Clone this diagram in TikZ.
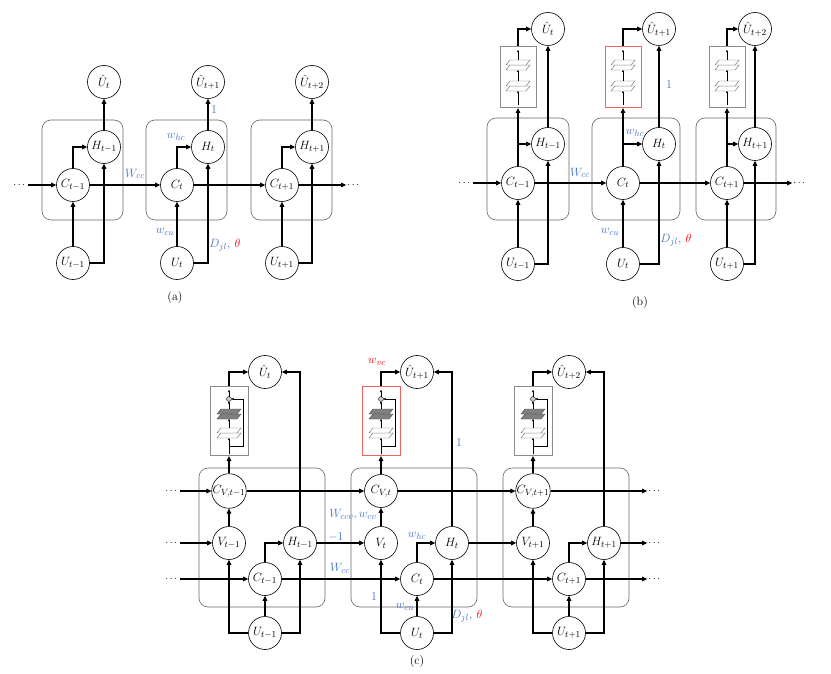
\documentclass[tikz,border=0pt]{standalone}
\usepackage{amsmath}
\usepackage{color}
\usetikzlibrary{arrows.meta}
\definecolor{wblue}{RGB}{68,114,196}
\definecolor{wred}{RGB}{255,0,0}
\definecolor{netred}{RGB}{240,100,100}

\begin{document}
\begin{tikzpicture}[x=1pt,y=-1pt,
    unit/.style={
      % The shape:
      circle,minimum size=33pt,inner sep=0pt,
      % The rest
      draw=black,line width=0.6pt,fill=white,
      font=\fontsize{13}{15}\selectfont},
    cell/.style={draw=black!60,line width=0.6pt,rounded corners=9pt},
    netbox/.style={rectangle,line width=1pt,inner sep=0pt},
    wire/.style={line width=1.1pt,-{Triangle[length=5pt,width=4.5pt]}},
    tiny/.style={line width=0.4pt,-{Triangle[length=2pt,width=2pt]}},
    weight/.style={text=wblue,font=\fontsize{13}{15}\selectfont},
    dots/.style={font=\fontsize{10}{12}\selectfont,inner sep=1pt},
    caption/.style={font=\fontsize{12}{14}\selectfont},
    % The little networks:
    layerw/.pic={
      \foreach \d in {2.5,-2.5}
        \draw[fill=white,draw=black!60,line width=0.4pt]
          (-12,\d+2.5) -- (-8,\d-2.5) -- (12,\d-2.5) -- (8,\d+2.5) -- cycle;},
    layerg/.pic={
      \foreach \d in {2.5,-2.5}
        \draw[fill=black!50,draw=black!70,line width=0.4pt]
          (-12,\d+2.5) -- (-8,\d-2.5) -- (12,\d-2.5) -- (8,\d+2.5) -- cycle;},
    netb/.pic={
      \draw[tiny] (0,28) -- (0,14);
      \pic at (0,9) {layerw};
      \draw[tiny] (0,4) -- (0,-7);
      \pic at (0,-12) {layerw};
      \draw[tiny] (0,-17) -- (0,-27);},
    netc/.pic={
      \draw[tiny] (0,25) -| (14,-22) -- (2.5,-22);
      \draw[tiny] (0,33) -- (0,17);
      \pic at (0,12) {layerw};
      \draw[tiny] (0,7) -- (0,-2);
      \pic at (0,-7) {layerg};
      \draw[tiny] (0,-12) -- (0,-19.5);
      \draw[fill=black!20,line width=0.4pt] (0,-22) circle (2.5);
      \draw[tiny] (0,-24.5) -- (0,-31);}]
  \useasboundingbox (0,0) rectangle (831,674);

  % (a)
  \foreach \col/\cx/\hx/\sub/\nxt in {1/73/104/t-1/t,2/177/208/t/t+1,3/282/312/t+1/t+2}{
    \draw[cell] (\cx-31,120) rectangle (\cx+50,220);
    \node[unit] (aC\col) at (\cx,185) {$C_{\sub}$};
    \node[unit] (aH\col) at (\hx,147) {$H_{\sub}$};
    \node[unit] (aU\col) at (\cx,263) {$U_{\sub}$};
    \node[unit] (aO\col) at (\hx,82) {$\hat{U}_{\nxt}$};
    \draw[wire] (aU\col) -- (aC\col);
    \draw[wire] (aC\col.north) |- (aH\col.west);
    \draw[wire] (aU\col.east) -| (aH\col.south);
    \draw[wire] (aH\col) -- (aO\col);
  }
  \node[dots] (aL) at (20,185) {$\cdots$};
  \node[dots] (aR) at (354,185) {$\cdots$};
  \draw[wire] (aL) -- (aC1);
  \draw[wire] (aC1) -- (aC2);
  \draw[wire] (aC2) -- (aC3);
  \draw[wire] (aC3) -- (aR);
  \node[weight] (aWcc) at (135,174) {$W_{cc}$};
  \node[weight] (aWhc) at (176,137) {$w_{hc}$};
  \node[weight] (aOne) at (214,110) {$1$};
  \node[weight] (aWcu) at (165,232) {$w_{cu}$};
  \node[weight] (aDjl) at (225,245) {$D_{jl}$, \textcolor{wred}{$\theta$}};
  \node[caption] (aCap) at (175,298) {(a)};

  % (b)
  \foreach \col/\cx/\hx/\sub/\nxt/\nc in {1/518/548/t-1/t/black!45,2/623/659/t/t+1/netred,3/727/755/t+1/t+2/black!45}{
    \draw[cell] (\cx-31,118) rectangle (\hx+21,220);
    \node[netbox,draw=\nc,minimum width=36pt,minimum height=61pt] (bN\col) at (\cx,77) {};
    \pic at (bN\col) {netb};
    \node[unit] (bC\col) at (\cx,183) {$C_{\sub}$};
    \node[unit] (bH\col) at (\hx,144) {$H_{\sub}$};
    \node[unit] (bU\col) at (\cx,264) {$U_{\sub}$};
    \node[unit] (bO\col) at (\hx,29) {$\hat{U}_{\nxt}$};
    \draw[wire] (bU\col) -- (bC\col);
    \draw[wire] (bC\col) -- (bN\col);
    \draw[wire] (bC\col.north |- bH\col.west) -- (bH\col.west);
    \draw[wire] (bU\col.east) -| (bH\col.south);
    \draw[wire] (bH\col) -- (bO\col);
    \draw[wire] (bN\col.north) |- (bO\col.west);
  }
  \node[dots] (bL) at (465,183) {$\cdots$};
  \node[dots] (bR) at (800,183) {$\cdots$};
  \draw[wire] (bL) -- (bC1);
  \draw[wire] (bC1) -- (bC2);
  \draw[wire] (bC2) -- (bC3);
  \draw[wire] (bC3) -- (bR);
  \node[weight] (bWcc) at (580,173) {$W_{cc}$};
  \node[weight] (bWhc) at (635,133) {$w_{hc}$};
  \node[weight] (bOne) at (669,85) {$1$};
  \node[weight] (bWcu) at (610,232) {$w_{cu}$};
  \node[weight] (bDjl) at (676,240) {$D_{jl}$, \textcolor{wred}{$\theta$}};
  \node[caption] (bCap) at (640,303) {(b)};

  % (c)
  \foreach \col/\bx/\sub/\nxt/\nc in {1/229/t-1/t/black!45,2/381/t/t+1/netred,3/533/t+1/t+2/black!45}{
    \draw[cell] (\bx-30,468) rectangle (\bx+96,607);
    \node[netbox,draw=\nc,minimum width=38pt,minimum height=69pt] (cN\col) at (\bx,421) {};
    \pic at (cN\col) {netc};
    \node[unit] (cCV\col) at (\bx,491) {$C_{V,\sub}$};
    \node[unit] (cV\col) at (\bx,543) {$V_{\sub}$};
    \node[unit] (cH\col) at (\bx+71,543) {$H_{\sub}$};
    \node[unit] (cC\col) at (\bx+36,579) {$C_{\sub}$};
    \node[unit] (cU\col) at (\bx+36,633) {$U_{\sub}$};
    \node[unit] (cO\col) at (\bx+36,372) {$\hat{U}_{\nxt}$};
    \draw[wire] (cU\col) -- (cC\col);
    \draw[wire] (cU\col.west) -| (cV\col.south);
    \draw[wire] (cU\col.east) -| (cH\col.south);
    \draw[wire] (cC\col.north) |- (cH\col.west);
    \draw[wire] (cV\col) -- (cCV\col);
    \draw[wire] (cCV\col) -- (cN\col);
    \draw[wire] (cN\col.north) |- (cO\col.west);
    \draw[wire] (cH\col.north) |- (cO\col.east);
  }
  \node[dots] (cLCV) at (172,491) {$\cdots$};
  \node[dots] (cLV) at (172,543) {$\cdots$};
  \node[dots] (cLC) at (172,579) {$\cdots$};
  \node[dots] (cRCV) at (655,491) {$\cdots$};
  \node[dots] (cRH) at (655,543) {$\cdots$};
  \node[dots] (cRC) at (655,579) {$\cdots$};
  \draw[wire] (cLCV) -- (cCV1);
  \draw[wire] (cLV) -- (cV1);
  \draw[wire] (cLC) -- (cC1);
  \draw[wire] (cCV1) -- (cCV2);
  \draw[wire] (cCV2) -- (cCV3);
  \draw[wire] (cH1) -- (cV2);
  \draw[wire] (cH2) -- (cV3);
  \draw[wire] (cC1) -- (cC2);
  \draw[wire] (cC2) -- (cC3);
  \draw[wire] (cCV3) -- (cRCV);
  \draw[wire] (cH3) -- (cRH);
  \draw[wire] (cC3) -- (cRC);
  \node[weight,text=wred] (cWvc) at (377,362) {$w_{vc}$};
  \node[weight] (cOne) at (459,443) {$1$};
  \node[weight] (cWccv) at (353,515) {$W_{ccv}, w_{cv}$};
  \node[weight] (cMinus) at (336,537) {$-1$};
  \node[weight] (cWcc) at (340,568) {$W_{cc}$};
  \node[weight] (cWhc) at (417,536) {$w_{hc}$};
  \node[weight] (cOneV) at (374,597) {$1$};
  \node[weight] (cWcu) at (405,607) {$w_{cu}$};
  \node[weight] (cDjl) at (467,616) {$D_{jl}$, \textcolor{wred}{$\theta$}};
  \node[caption] (cCap) at (417,662) {(c)};
\end{tikzpicture}
\end{document}
